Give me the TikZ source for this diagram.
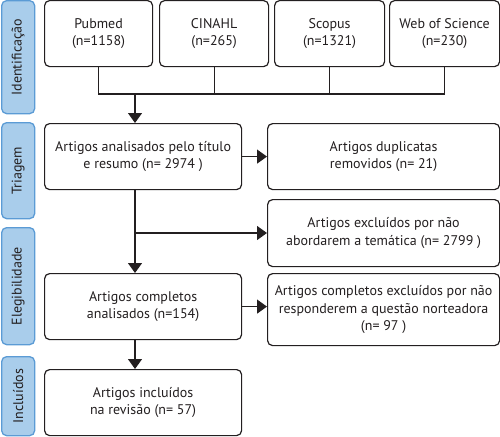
\documentclass[tikz,border=0pt]{standalone}
\usepackage{fontspec}
\setmainfont{PT Sans}
\usetikzlibrary{arrows.meta,calc,positioning}
\definecolor{prink}{HTML}{231F20}
\definecolor{prblue}{HTML}{5B9BD5}
\definecolor{prpale}{HTML}{A9CDEB}
\tikzset{
  pr text/.style={font=\fontsize{14}{17.5}\selectfont, text=prink},
  pr box/.style={draw=prink, line width=1.2pt, rounded corners=5pt, fill=white,
    anchor=north west, align=center, inner sep=2pt, font=\fontsize{14}{17.5}\selectfont},
  pr stage/.style={draw=prblue, line width=1.3pt, rounded corners=5pt, fill=prpale,
    anchor=north west, minimum width=33pt, inner sep=0pt},
  pr stage text/.style={rotate=90, font=\fontsize{14}{17.5}\selectfont, text=prink},
  pr line/.style={draw=prink, line width=1.2pt},
  pr arrow/.style={pr line, -{Triangle[length=10pt,width=14pt]}}
}

\begin{document}
\begin{tikzpicture}[pr text, x=1pt, y=-1pt]
  \useasboundingbox (0,0) rectangle (500,436);
  % stage labels
  \node[pr stage, minimum height=113pt] (sIdent) at (1,0) {};
  \node[pr stage text] at (sIdent.center) {Identificação};
  \node[pr stage, minimum height=96pt] (sTriag) at (1,122) {};
  \node[pr stage text] at (sTriag.center) {Triagem};
  \node[pr stage, minimum height=117pt] (sEleg) at (1,227) {};
  \node[pr stage text] at (sEleg.center) {Elegibilidade};
  \node[pr stage, minimum height=79pt] (sIncl) at (1,356) {};
  \node[pr stage text] at (sIncl.center) {Incluídos};
  % databases
  \node[pr box, minimum width=108pt, minimum height=66pt] (pubmed) at (44,0) {Pubmed\\(n=1158)};
  \node[pr box, minimum width=109pt, minimum height=66pt] (cinahl) at (159,0) {CINAHL\\(n=265)};
  \node[pr box, minimum width=110pt, minimum height=66pt] (scopus) at (274,0) {Scopus\\(n=1321)};
  \node[pr box, minimum width=110pt, minimum height=66pt] (wos) at (389,0) {Web of Science\\(n=230)};
  % screening and eligibility
  \node[pr box, minimum width=197pt, minimum height=66pt] (triagem) at (44,123) {Artigos analisados pelo título\\e resumo (n= 2974 )};
  \node[pr box, minimum width=232pt, minimum height=66pt] (duplic) at (267,123) {Artigos duplicatas\\removidos (n= 21)};
  \node[pr box, minimum width=232pt, minimum height=67pt] (tematica) at (267,199) {Artigos excluídos por não\\abordarem a temática (n= 2799 )};
  \node[pr box, minimum width=197pt, minimum height=66pt] (completos) at (44,273) {Artigos completos\\analisados (n=154)};
  \node[pr box, minimum width=232pt, minimum height=72pt] (questao) at (267,273) {Artigos completos excluídos por não\\responderem a questão norteadora\\(n= 97 )};
  \node[pr box, minimum width=197pt, minimum height=66pt] (incluidos) at (44,369) {Artigos incluídos\\na revisão (n= 57)};
  % connectors
  \coordinate (join) at (135,94);
  \coordinate (branch) at (135,233);
  \draw[pr line] (pubmed.south) |- (wos.south |- join) -- (wos.south);
  \draw[pr line] (cinahl.south) -- (cinahl.south |- join);
  \draw[pr line] (scopus.south) -- (scopus.south |- join);
  \draw[pr arrow] (join) -- (join |- triagem.north);
  \draw[pr arrow] (triagem.east) -- (triagem.east -| duplic.west);
  \draw[pr arrow] (join |- triagem.south) -- (join |- completos.north);
  \draw[pr arrow] (branch) -- (branch -| tematica.west);
  \draw[pr arrow] (completos.east) -- (completos.east -| questao.west);
  \draw[pr arrow] (join |- completos.south) -- (join |- incluidos.north);
\end{tikzpicture}
\end{document}
